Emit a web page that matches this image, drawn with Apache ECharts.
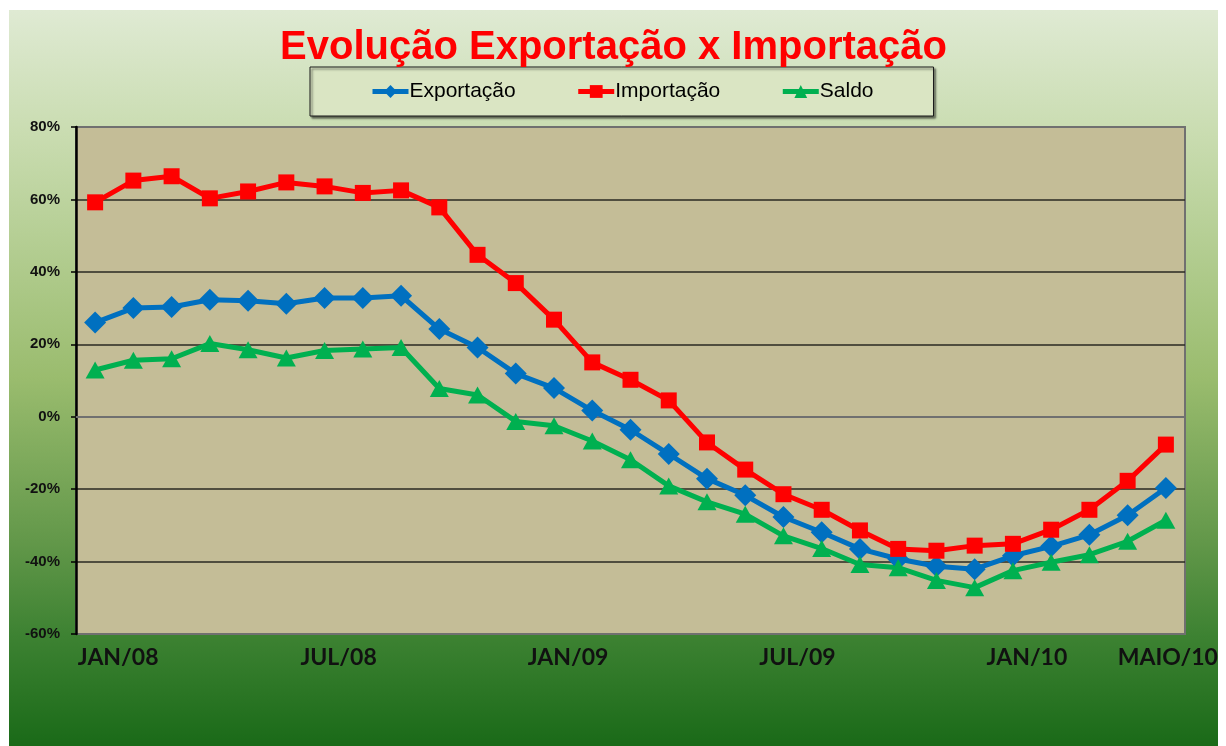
<!DOCTYPE html>
<html>
<head>
<meta charset="utf-8">
<title>Evolução Exportação x Importação</title>
<script src="https://cdn.jsdelivr.net/npm/echarts@6/dist/echarts.min.js"></script>
<style>
  html, body { margin: 0; padding: 0; background: #fff; }
  #chart { position: absolute; left: 9px; top: 10px; width: 1209px; height: 736px; }
</style>
</head>
<body>
<div id="chart"></div>
<script>
// meses de JAN/08 a MAIO/10
const meses = [
  'JAN/08', 'FEV/08', 'MAR/08', 'ABR/08', 'MAIO/08', 'JUN/08', 'JUL/08', 'AGO/08', 'SET/08', 'OUT/08', 'NOV/08', 'DEZ/08',
  'JAN/09', 'FEV/09', 'MAR/09', 'ABR/09', 'MAIO/09', 'JUN/09', 'JUL/09', 'AGO/09', 'SET/09', 'OUT/09', 'NOV/09', 'DEZ/09',
  'JAN/10', 'FEV/10', 'MAR/10', 'ABR/10', 'MAIO/10'
]
// só estes rótulos aparecem no eixo
const rotulosVisiveis = ['JAN/08', 'JUL/08', 'JAN/09', 'JUL/09', 'JAN/10', 'MAIO/10']

// variação (%)
const exportacao = [26.0, 30.0, 30.3, 32.3, 32.0, 31.2, 32.8, 32.8, 33.4, 24.2, 19.1, 11.9, 7.9, 1.7, -3.6,
  -10.3, -17.1, -21.7, -27.7, -31.9, -36.5, -39.3, -41.3, -42.1, -38.4, -35.8, -32.6, -27.2, -19.7]
const importacao = [59.2, 65.2, 66.4, 60.3, 62.2, 64.7, 63.6, 61.8, 62.5, 57.8, 44.7, 36.9, 26.8, 15.0, 10.2,
  4.5, -7.1, -14.6, -21.4, -25.7, -31.4, -36.5, -37.0, -35.6, -35.1, -31.2, -25.7, -17.7, -7.7]
const saldo = [12.9, 15.6, 16.0, 20.2, 18.5, 16.2, 18.3, 18.7, 19.1, 7.8, 6.0, -1.3, -2.5, -6.7, -11.9,
  -19.1, -23.5, -26.9, -32.9, -36.4, -40.8, -41.7, -45.2, -47.2, -42.5, -40.2, -38.1, -34.4, -28.6]

const yTicks = { min: -60, max: 80, interval: 20 }

const chart = echarts.init(document.getElementById('chart'))

const linha = (name, data, color, symbol, symbolSize) => ({
  name,
  type: 'line',
  data,
  symbol,
  symbolSize,
  showAllSymbol: true,
  lineStyle: { color, width: 5 },
  itemStyle: { color, borderWidth: 0 },
  emphasis: { disabled: true }
})

// estilo dos rótulos do eixo x (deslocados à direita como no original)
const rotuloX = (padLeft) => ({
  fontSize: 23,
  fontWeight: 'bold',
  color: '#111',
  fontFamily: 'Lato, "Open Sans", sans-serif',
  padding: [0, 0, 0, padLeft]
})

chart.setOption({
  backgroundColor: new echarts.graphic.LinearGradient(0, 0, 0, 1, [
    { offset: 0, color: '#DFEAD3' },
    { offset: 0.17, color: '#C9DCB0' },
    { offset: 0.5, color: '#9ABC6E' },
    { offset: 0.72, color: '#63984A' },
    { offset: 0.85, color: '#3D8232' },
    { offset: 1, color: '#1A6A18' }
  ]),
  animation: false,
  title: {
    text: 'Evolução Exportação x Importação',
    left: 'center',
    top: 13,
    textStyle: { color: '#FF0000', fontSize: 40, fontWeight: 'bold', fontFamily: '"Liberation Sans", Arial, sans-serif' }
  },
  legend: {
    left: 301,
    top: 57,
    padding: [14, 60, 14, 60],
    itemGap: 60,
    itemWidth: 36,
    itemHeight: 16,
    backgroundColor: '#DAE5C3',
    borderColor: '#1a1a1a',
    borderWidth: 1,
    shadowColor: 'rgba(0,0,0,0.55)',
    shadowBlur: 2,
    shadowOffsetX: 2,
    shadowOffsetY: 2,
    lineStyle: { width: 5 },
    textStyle: { color: '#000', fontSize: 21, fontFamily: '"Liberation Sans", Arial, sans-serif', padding: [0, 0, 0, -4] },
    data: ['Exportação', 'Importação', 'Saldo']
  },
  grid: {
    left: 67, right: 33, top: 117, bottom: 112,
    outerBoundsMode: 'none',
    containLabel: false,
    show: true,
    backgroundColor: '#C4BD97',
    borderColor: '#707070',
    borderWidth: 2
  },
  xAxis: {
    type: 'category',
    data: meses,
    boundaryGap: true,
    axisLine: { show: true, lineStyle: { color: '#707070', width: 2 } },
    axisTick: { show: false },
    axisLabel: {
      interval: (i, v) => rotulosVisiveis.includes(v),
      margin: 12,
      color: '#111',
      fontSize: 23,
      fontWeight: 'bold',
      fontFamily: 'Lato, "Open Sans", sans-serif',
      hideOverlap: false,
      formatter: (v, i) => {
        if (i === 0) return '{p|' + v + '}'
        if (i === meses.length - 1) return '{u|' + v + '}'
        return '{n|' + v + '}'
      },
      rich: { p: rotuloX(46), n: rotuloX(28), u: rotuloX(4) }
    },
    splitLine: { show: false }
  },
  yAxis: {
    type: 'value',
    min: yTicks.min,
    max: yTicks.max,
    interval: yTicks.interval,
    axisLine: { show: true, onZero: false, lineStyle: { color: '#000', width: 2.5 } },
    axisTick: { show: true, length: 5, lineStyle: { color: '#000', width: 1.5 } },
    axisLabel: {
      formatter: '{value}%',
      margin: 16,
      color: '#111',
      fontSize: 15,
      fontWeight: 'bold',
      fontFamily: '"Liberation Sans", Arial, sans-serif'
    },
    splitLine: { show: true, showMinLine: false, showMaxLine: false, lineStyle: { color: '#2a2a22', width: 1.6 } }
  },
  series: [
    linha('Exportação', exportacao, '#0070C0', 'diamond', 22),
    linha('Importação', importacao, '#FF0000', 'rect', 16),
    linha('Saldo', saldo, '#00B050', 'triangle', [19, 17])
  ]
})
</script>
</body>
</html>
